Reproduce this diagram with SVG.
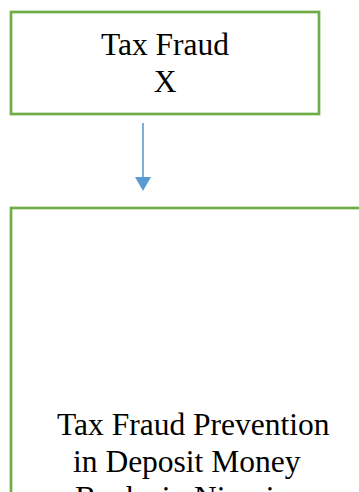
<svg xmlns="http://www.w3.org/2000/svg" width="359" height="492" viewBox="0 0 359 492">
<style>
.box{fill:#fff;stroke:#70AD47;stroke-width:2.7}
.t{font-family:"Liberation Serif","Times New Roman",serif;font-size:31.5px;fill:#000}
.c{stroke:#5B9BD5;stroke-width:1.6;fill:none}
</style>
<defs>
<marker id="ah" markerUnits="userSpaceOnUse" markerWidth="16" markerHeight="16" refX="8" refY="15" orient="auto" viewBox="0 0 16 16">
<path d="M0,0 L16,0 L8,15 Z" fill="#5B9BD5" transform="rotate(-90 8 8)"/>
</marker>
</defs>
<rect width="359" height="492" fill="#fff"/>
<g id="node-tax-fraud">
<rect class="box" x="11" y="12" width="308" height="102"/>
<text class="t" x="165" y="55" text-anchor="middle">Tax Fraud</text>
<text class="t" x="165" y="92" text-anchor="middle">X</text>
</g>
<g id="node-prevention">
<rect class="box" x="11" y="208" width="400" height="340"/>
<text class="t" x="57" y="435">Tax Fraud Prevention</text>
<text class="t" x="73" y="472">in Deposit Money</text>
<text class="t" x="75" y="508">Banks in Nigeria</text>
</g>
<g id="connectors">
<line class="c" x1="143" y1="123" x2="143" y2="178"/>
<path d="M135,177 L151,177 L143,191 Z" fill="#5B9BD5"/>
</g>
</svg>
